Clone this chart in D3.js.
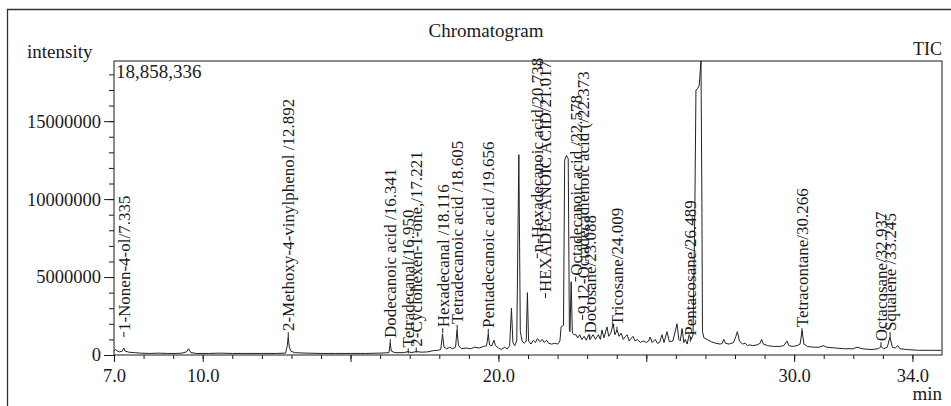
<!DOCTYPE html>
<html><head><meta charset="utf-8">
<script src="https://cdn.jsdelivr.net/npm/d3@7"></script>
<style>
html,body{margin:0;padding:0;background:#fff;}
svg{display:block;font-family:"Liberation Serif","Times New Roman",serif;}
</style></head>
<body><svg id="c" width="951" height="406"></svg>
<script>
// ---- data (retention time in min, intensity in millions of counts) ----
const traceTimes = [7.00,7.05,7.10,7.18,7.28,7.33,7.38,7.5,7.7,7.9,8.2,8.5,8.8,9.1,9.3,9.45,9.52,9.6,9.8,10.2,10.6,11.0,11.5,12.0,12.5,12.8,12.86,12.89,12.93,12.98,13.1,13.5,14.0,14.5,15.0,15.5,16.0,16.3,16.34,16.38,16.5,16.8,16.95,17.05,17.22,17.4,17.6,17.8,17.95,18.05,18.11,18.16,18.25,18.35,18.45,18.55,18.6,18.65,18.75,18.9,19.05,19.2,19.35,19.5,19.6,19.656,19.7,19.78,19.85,19.9,20.0,20.1,20.2,20.3,20.38,20.44,20.49,20.55,20.62,20.69,20.74,20.8,20.88,20.94,20.98,21.02,21.1,21.18,21.25,21.32,21.4,21.48,21.55,21.63,21.7,21.8,21.9,22.0,22.08,22.12,22.2,22.24,22.3,22.36,22.4,22.42,22.46,22.5,22.56,22.62,22.68,22.75,22.82,22.9,22.97,23.05,23.1,23.2,23.28,23.38,23.45,23.5,23.57,23.67,23.73,23.8,23.88,23.94,24.01,24.08,24.15,24.22,24.3,24.35,24.42,24.5,24.55,24.62,24.7,24.8,24.9,25.0,25.08,25.13,25.2,25.3,25.38,25.45,25.53,25.6,25.7,25.78,25.9,26.04,26.1,26.15,26.21,26.27,26.32,26.38,26.45,26.52,26.58,26.64,26.68,26.74,26.79,26.85,26.88,26.9,26.95,27.05,27.2,27.35,27.5,27.57,27.62,27.68,27.8,27.95,28.03,28.08,28.15,28.25,28.35,28.42,28.5,28.6,28.75,28.85,28.9,28.96,29.1,29.3,29.5,29.65,29.76,29.82,29.95,30.1,30.2,30.27,30.33,30.45,30.65,30.85,30.98,31.1,31.4,31.7,32.0,32.13,32.3,32.6,32.85,32.94,33.02,33.15,33.24,33.32,33.42,33.5,33.58,33.8,34.2,34.6,34.97];
const traceValues = [0.25,0.35,0.28,0.2,0.25,0.45,0.25,0.18,0.15,0.12,0.1,0.12,0.1,0.1,0.12,0.2,0.4,0.15,0.1,0.1,0.12,0.1,0.1,0.1,0.1,0.12,0.6,1.15,0.5,0.25,0.15,0.12,0.1,0.1,0.1,0.1,0.12,0.15,0.75,0.25,0.15,0.15,0.22,0.15,0.22,0.18,0.2,0.28,0.3,0.35,1.35,0.5,0.4,0.5,0.4,0.5,1.6,0.6,0.4,0.45,0.4,0.5,0.45,0.55,0.6,1.35,0.65,0.6,0.95,0.6,0.45,0.35,0.5,0.4,0.6,3.0,0.8,0.6,0.9,12.85,1.5,0.9,0.75,0.9,4.0,0.9,0.7,0.95,0.8,1.05,0.85,1.0,0.8,0.95,0.75,0.7,0.75,0.7,0.9,1.8,1.9,12.5,12.8,12.6,1.6,1.5,4.7,1.4,1.3,1.3,1.1,1.3,1.0,1.2,0.95,1.3,1.0,1.3,1.0,1.3,1.0,1.6,1.1,1.8,1.2,1.4,2.0,1.3,1.6,1.2,1.4,1.0,1.2,1.3,0.9,1.1,1.2,0.9,1.0,0.8,0.9,0.8,0.9,1.15,0.8,1.0,0.75,0.8,1.3,0.8,1.5,0.85,0.9,2.0,1.0,0.9,1.7,0.8,1.0,0.7,1.3,1.0,1.3,9.0,17.0,17.1,17.3,18.858336,10.0,1.5,1.1,1.0,0.85,0.75,0.7,0.75,1.0,0.75,0.7,0.8,1.2,1.5,0.9,0.7,0.75,0.6,0.65,0.6,0.65,0.75,1.0,0.7,0.6,0.55,0.55,0.6,0.9,0.6,0.55,0.6,0.7,1.55,0.7,0.55,0.5,0.5,0.6,0.5,0.45,0.4,0.4,0.5,0.4,0.35,0.4,0.55,0.4,0.5,1.15,0.5,0.45,0.6,0.4,0.35,0.3,0.3,0.3];

const labelTexts = ["1-Nonen-4-ol/7.335","2-Methoxy-4-vinylphenol /12.892","Dodecanoic acid /16.341","Tetradecanal/16.950","2-Cyclohexen-1-one,/17.221","Hexadecanal /18.116","Tetradecanoic acid /18.605","Pentadecanoic acid /19.656","n-Hexadecanoic acid/20.738","HEXADECANOIC ACID/21.017","9,12-Octadecadienoic acid (/22.373","Octadecanoic acid /22.578","Docosane/23.088","Tricosane/24.009","Pentacosane/26.489","Tetracontane/30.266","Octacosane/32.937","Squalene /33.245"];
const labelTimes = [7.335,12.892,16.341,16.950,17.221,18.116,18.605,19.656,20.738,21.017,22.373,22.578,23.088,24.009,26.489,30.266,32.937,33.245];
const labelBase = [1.15,1.15,0.7,0.1,0.15,1.4,1.6,1.35,6.2,3.65,2.25,4.7,1.0,1.5,0.85,1.4,0.5,1.15]; // intensity (M) where each label starts

const xMajorTicks = [7,10,15,20,25,30,34];
const xLabeledTicks = [7,10,20,30,34];
const yMajorTicks = [0,5000000,10000000,15000000];
const maxIntensity = 18858336;

// ---- layout ----
const labelShift = {"n-Hexadecanoic acid/20.738":17,"HEXADECANOIC ACID/21.017":17,"9,12-Octadecadienoic acid (/22.373":14,"Octadecanoic acid /22.578":1};
const svg = d3.select("#c");
const L=114,R=942,T=61,B=355;
const x = d3.scaleLinear().domain([7,35]).range([L,R]);
const y = d3.scaleLinear().domain([0,maxIntensity]).range([B,T]);
const ink="#1a1a1a";

// outer frame
svg.append("path").attr("d","M7.5,410V9.5H955").attr("fill","none").attr("stroke","#333").attr("stroke-width",1.3);

// texts
svg.append("text").attr("x",486).attr("y",37).attr("text-anchor","middle").attr("font-size",19).attr("fill",ink).text("Chromatogram");
svg.append("text").attr("x",27).attr("y",58).attr("font-size",19).attr("fill",ink).text("intensity");
svg.append("text").attr("x",942).attr("y",55).attr("text-anchor","end").attr("font-size",18).attr("fill",ink).text("TIC");
svg.append("text").attr("x",942).attr("y",400).attr("text-anchor","end").attr("font-size",19).attr("fill",ink).text("min");
svg.append("text").attr("x",116).attr("y",78).attr("font-size",19).attr("fill",ink).text(d3.format(",")(maxIntensity));

// axes
function styleAxis(g){g.select(".domain").remove();g.selectAll("line").attr("stroke",ink);g.selectAll("text").attr("fill",ink).attr("font-family","Liberation Serif, serif");}
svg.append("g").attr("transform",`translate(0,${B})`)
  .call(d3.axisBottom(x).tickValues(d3.range(7,35)).tickSize(4).tickFormat(""))
  .call(styleAxis);
svg.append("g").attr("transform",`translate(0,${B})`)
  .call(d3.axisBottom(x).tickValues(xMajorTicks).tickSize(7).tickPadding(7)
    .tickFormat(d=>xLabeledTicks.includes(d)?d3.format(".1f")(d):""))
  .call(styleAxis).selectAll("text").attr("font-size",18.5);
svg.append("g").attr("transform",`translate(${L},0)`)
  .call(d3.axisLeft(y).tickValues(d3.range(0,19000000,1000000)).tickSize(5).tickFormat(""))
  .call(styleAxis);
svg.append("g").attr("transform",`translate(${L},0)`)
  .call(d3.axisLeft(y).tickValues(yMajorTicks).tickSize(10).tickPadding(3).tickFormat(d3.format("d")))
  .call(styleAxis).selectAll("text").attr("font-size",18.5);

// plot box
svg.append("rect").attr("x",L).attr("y",T).attr("width",R-L).attr("height",B-T)
  .attr("fill","none").attr("stroke",ink).attr("stroke-width",1);

// trace
const pts = traceTimes.map((t,i)=>[t,traceValues[i]*1e6]);
svg.append("path").datum(pts)
  .attr("d",d3.line().x(d=>x(d[0])).y(d=>y(d[1])))
  .attr("fill","none").attr("stroke","#222").attr("stroke-width",1);

// peak labels
labelTexts.forEach((s,i)=>{
  const px = x(labelTimes[i]) + (labelShift[s]||0);
  const py = y(labelBase[i]*1e6);
  svg.append("line").attr("x1",px).attr("x2",px).attr("y1",py).attr("y2",py-5)
    .attr("stroke",ink).attr("stroke-width",1);
  svg.append("text").attr("transform",`translate(${px},${py-6}) rotate(-90)`)
    .attr("dy","0.35em").attr("font-size",17).attr("fill",ink).text(s);
});
</script></body></html>
